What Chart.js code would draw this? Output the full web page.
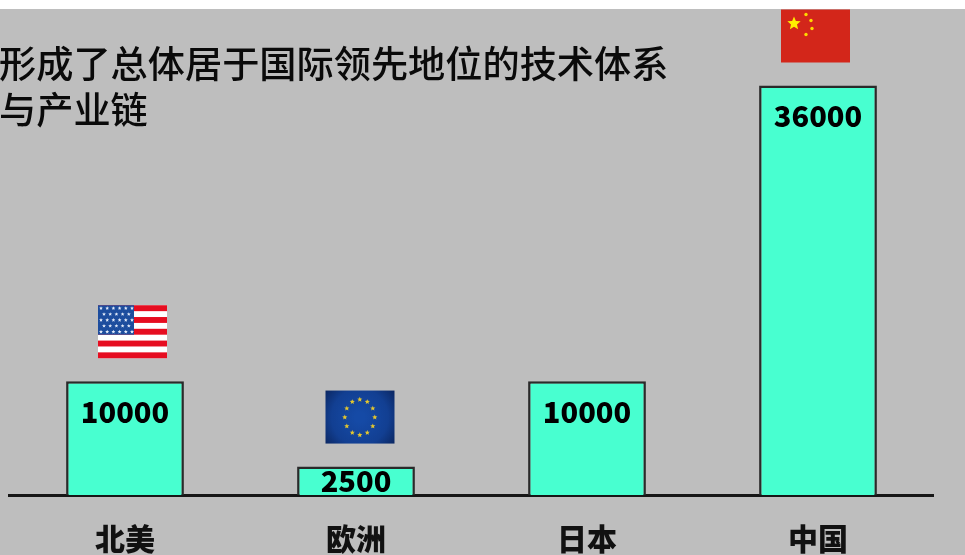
<!DOCTYPE html>
<html>
<head>
<meta charset="utf-8">
<style>
  html, body { margin: 0; padding: 0; background: #fff; overflow: hidden; }
  #wrap { position: relative; width: 965px; height: 555px; }
  #bg { position: absolute; left: 0; top: 9px; width: 965px; height: 546px; background: #bebebe; }
  #chart { position: absolute; left: 0; top: 0; filter: blur(0.35px); }
  #title {
    position: absolute; left: -1px; top: 39px; width: 720px;
    font: 500 37.2px/46px "Noto Sans CJK SC", sans-serif; color: #0a0a0a;
    filter: blur(0.3px);
  }
</style>
</head>
<body>
<div id="wrap">
  <div id="bg"></div>
  <canvas id="chart" width="965" height="555"></canvas>
  <div id="title">形成了总体居于国际领先地位的技术体系<br>与产业链</div>
</div>
<script src="https://cdn.jsdelivr.net/npm/chart.js@4"></script>
<script>
// dados
const categories = ['北美', '欧洲', '日本', '中国'];
const values = [10000, 2500, 10000, 36000];
const flags = ['us', 'eu', null, 'cn'];

const FLAG_W = 69;
const FLAG_H = 53;
const FLAG_GAP = 23;
const FLAG_SHIFT = { us: 7.5, eu: 4, cn: -2.5 };

function star(ctx, cx, cy, r, color) {
  ctx.fillStyle = color;
  ctx.beginPath();
  for (let i = 0; i < 10; i++) {
    const a = -Math.PI / 2 + i * Math.PI / 5;
    const rr = i % 2 ? r * 0.45 : r;
    ctx.lineTo(cx + Math.cos(a) * rr, cy + Math.sin(a) * rr);
  }
  ctx.closePath();
  ctx.fill();
}

function drawUS(ctx, x, y) {
  const sh = FLAG_H / 9;
  ctx.fillStyle = '#ffffff';
  ctx.fillRect(x, y, FLAG_W, FLAG_H);
  ctx.fillStyle = '#e60d20';
  for (let i = 0; i < 9; i += 2) ctx.fillRect(x, y + i * sh, FLAG_W, sh);
  ctx.fillStyle = '#1d4d9e';
  ctx.fillRect(x, y, 36, sh * 5);
  for (let r = 0; r < 5; r++) {
    const n = r % 2 ? 5 : 6;
    for (let c = 0; c < n; c++) {
      const sx = x + 3 + c * 6.2 + (r % 2 ? 3 : 0);
      star(ctx, sx, y + 3 + r * 5.9, 2, '#e4ecfa');
    }
  }
}

function drawEU(ctx, x, y) {
  const cx = x + 34.3;
  const cy = y + 26.7;
  const g = ctx.createRadialGradient(cx, cy, 5, cx, cy, 44);
  g.addColorStop(0, '#154aa6');
  g.addColorStop(0.6, '#123f92');
  g.addColorStop(1, '#0b2660');
  ctx.fillStyle = g;
  ctx.fillRect(x, y, FLAG_W, FLAG_H);
  for (let i = 0; i < 12; i++) {
    const a = i * Math.PI / 6;
    star(ctx, cx + Math.cos(a) * 15, cy + Math.sin(a) * 17.8, 2.7, '#e3c62f');
  }
}

function drawCN(ctx, x, y) {
  ctx.fillStyle = '#d3261a';
  ctx.fillRect(x, y, FLAG_W, FLAG_H);
  star(ctx, x + 13, y + 14, 7, '#ffee00');
  ctx.fillStyle = '#ffd800';
  [[25, 5], [30, 11], [31, 19], [25, 25]].forEach(p => {
    ctx.beginPath();
    ctx.arc(x + p[0], y + p[1], 1.7, 0, Math.PI * 2);
    ctx.fill();
  });
}

const flagPainters = { us: drawUS, eu: drawEU, cn: drawCN };

// rótulos e bandeiras por cima das barras
const barExtras = {
  id: 'barExtras',
  afterDatasetsDraw(chart) {
    const ctx = chart.ctx;
    chart.getDatasetMeta(0).data.forEach((bar, i) => {
      const h = bar.base - bar.y;
      ctx.save();
      ctx.font = '900 29px "Noto Sans CJK SC", sans-serif';
      ctx.fillStyle = '#000';
      ctx.textAlign = 'center';
      ctx.textBaseline = 'middle';
      ctx.fillText(String(values[i]), bar.x, bar.y + Math.min(30.5, h / 2));
      ctx.restore();

      const name = flags[i];
      if (name) {
        const fx = bar.x + FLAG_SHIFT[name] - FLAG_W / 2;
        const fy = bar.y - FLAG_GAP - FLAG_H;
        ctx.save();
        ctx.filter = 'blur(0.4px)';
        flagPainters[name](ctx, fx, fy);
        ctx.restore();
      }
    });
  }
};

new Chart(document.getElementById('chart'), {
  type: 'bar',
  data: {
    labels: categories,
    datasets: [{
      data: values,
      backgroundColor: '#48ffd0',
      borderColor: '#2a2a2a',
      borderWidth: 2.5,
      barPercentage: 0.51,
      categoryPercentage: 1
    }]
  },
  options: {
    responsive: false,
    animation: false,
    layout: { padding: { left: 9.5, right: 31.5, top: 40, bottom: 0 } },
    plugins: { legend: { display: false }, title: { display: false }, tooltip: { enabled: false } },
    scales: {
      x: {
        afterFit: s => { s.height = 60; },
        grid: { display: false, drawTicks: false },
        border: { color: '#161616', width: 3 },
        ticks: {
          color: '#111',
          padding: 26,
          maxRotation: 0,
          font: { family: '"Noto Sans CJK SC", sans-serif', size: 30, weight: '900' }
        }
      },
      y: { display: false, min: 0, max: 40000 }
    }
  },
  plugins: [barExtras]
});
</script>
</body>
</html>
